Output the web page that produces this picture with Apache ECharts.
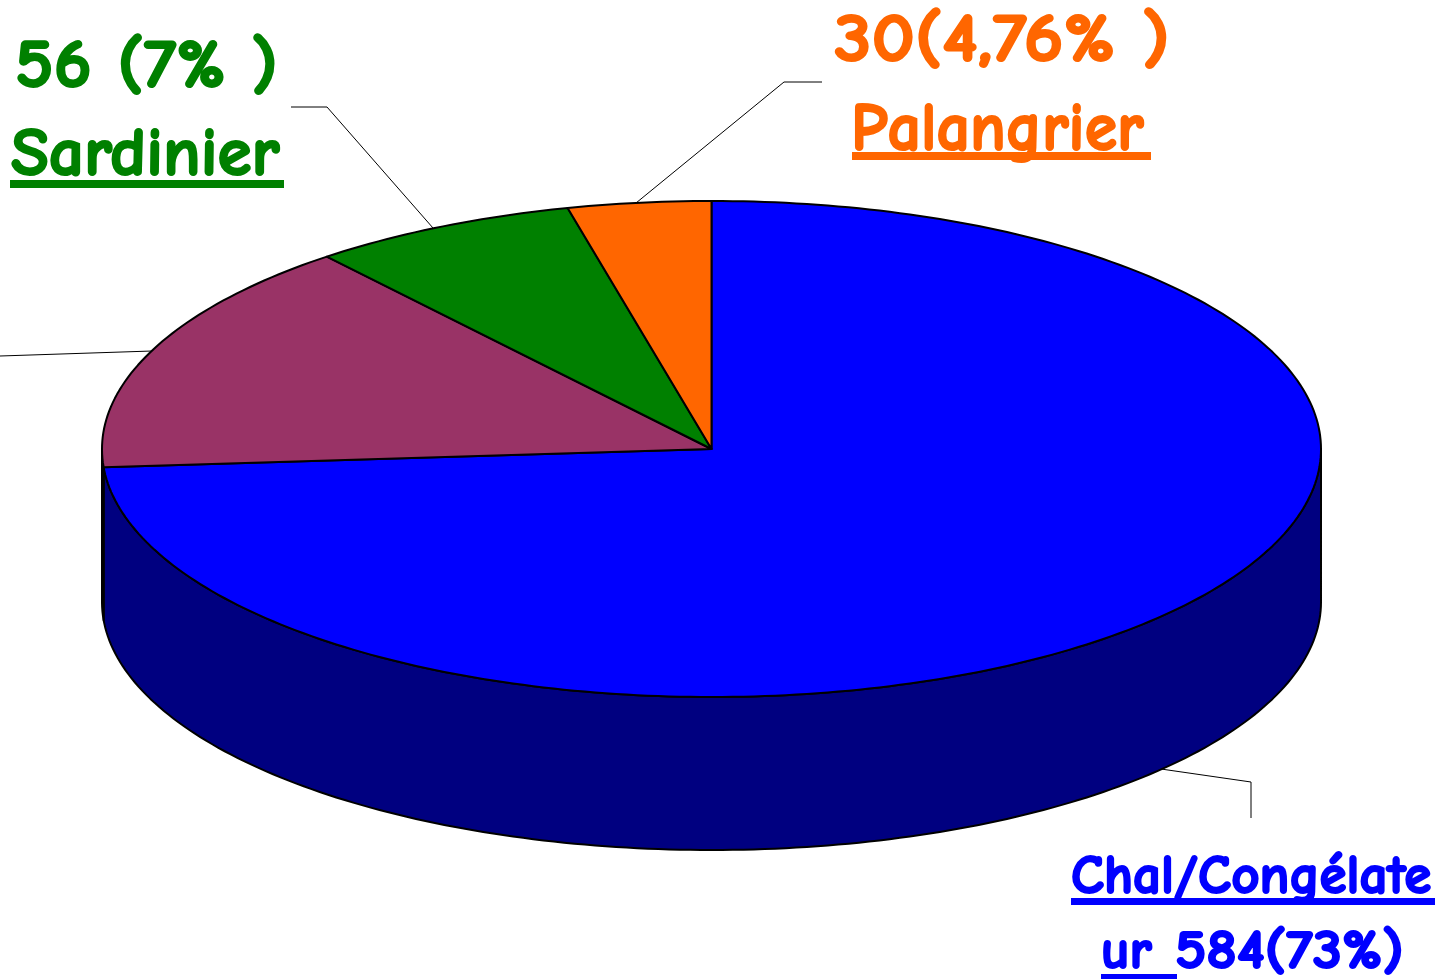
<!DOCTYPE html>
<html>
<head>
<meta charset="utf-8">
<title>Répartition des navires</title>
<script src="https://cdn.jsdelivr.net/npm/echarts@6/dist/echarts.min.js"></script>
<style>
    html, body { margin: 0; padding: 0; background: #fff; }
    #pie3d { width: 1439px; height: 979px; }
</style>
</head>
<body>
<div id="pie3d"></div>
<script>
// clockwise from 12 o'clock. the purple slice has its label cut off in the picture
const categories = ['Chal/Congélateur', '', 'Sardinier', 'Palangrier']
const boats = [584, 121, 56, 30]

const topColors = ['#0000ff', '#993366', '#008000', '#ff6600']
const wallColors = ['#000080', '#4d1a33', '#004000', '#803300']

const labelTexts = ['56 (7% )', 'Sardinier', '30(4,76% )', 'Palangrier', 'Chal/Congélate', 'ur ', '584(73%)']

// ellipse of the pie top
const cx = 711.5, cy = 449, rx = 609.5, ry = 248, depth = 153

const total = boats.reduce((a, b) => a + b)
let running = 0
const sliceRows = boats.map((v) => {
    const row = [v, running / total, (running + v) / total]
    running += v
    return row
})

function rimPoint(deg, dy = 0) {
    const a = (deg * Math.PI) / 180
    return [cx + rx * Math.sin(a), cy - ry * Math.cos(a) + dy]
}

function arcPoints(from, to, dy = 0) {
    const pts = []
    for (let d = from; d < to; d += 1) pts.push(rimPoint(d, dy))
    pts.push(rimPoint(to, dy))
    return pts
}

function renderTop(params, api) {
    const from = api.value(1) * 360,
        to = api.value(2) * 360
    return {
        type: 'polygon',
        shape: { points: [[cx, cy]].concat(arcPoints(from, to)) },
        style: { fill: topColors[params.dataIndex], stroke: '#000', lineWidth: 2, lineJoin: 'round' },
    }
}

function renderWall(params, api) {
    // only the front half of the rim shows, 90 to 270 deg
    const from = Math.max(api.value(1) * 360, 90),
        to = Math.min(api.value(2) * 360, 270)
    if (from >= to) return null
    const upper = arcPoints(from, to),
        lower = arcPoints(from, to, depth).reverse()
    return {
        type: 'polygon',
        shape: { points: upper.concat(lower) },
        style: { fill: wallColors[params.dataIndex], stroke: '#000', lineWidth: 2, lineJoin: 'round' },
    }
}

function leader(points) {
    return {
        type: 'polyline',
        shape: { points: points },
        style: { stroke: '#000', lineWidth: 1, fill: null },
    }
}

// baseline sits about 0.79 of the font size under the top of the text box
function label(text, x, baseline, size, color, sx = 1) {
    return {
        type: 'text',
        x: x,
        y: baseline - size * 0.79,
        scaleX: sx,
        style: {
            text: text,
            fill: color,
            fontFamily: '"Comic Sans MS", "Comic Neue", Lato, sans-serif',
            fontWeight: 'bold',
            fontSize: size,
            verticalAlign: 'top',
            stroke: color,
            lineWidth: 2,
        },
    }
}

function underline(x, y, w, h, color) {
    return { type: 'rect', shape: { x: x, y: y, width: w, height: h }, style: { fill: color } }
}

const myChart = echarts.init(document.querySelector('#pie3d'))
const option = {
    animation: false,
    backgroundColor: '#ffffff',
    series: [
        { name: 'parois', type: 'custom', coordinateSystem: 'none', renderItem: renderWall, data: sliceRows, z: 1, silent: true },
        { name: categories.join(' / '), type: 'custom', coordinateSystem: 'none', renderItem: renderTop, data: sliceRows, z: 2, silent: true },
    ],
    graphic: {
        elements: [
            leader([[291, 107], [327, 107], [433, 228]]),
            leader([[822, 82], [784, 82], [636, 203]]),
            leader([[0, 356], [152, 351]]),
            leader([[1161, 769], [1251, 782], [1251, 818]]),
            label(labelTexts[0], 15, 88, 68, topColors[2], 1.07),
            label(labelTexts[1], 11, 176, 68, topColors[2], 1.02),
            underline(10, 180, 274, 8, topColors[2]),
            label(labelTexts[2], 834, 62, 68, topColors[3], 1.12),
            label(labelTexts[3], 851, 151, 68, topColors[3], 0.97),
            underline(852, 152, 299, 8, topColors[3]),
            label(labelTexts[4], 1071, 893, 55, topColors[0]),
            underline(1071, 898, 364, 7, topColors[0]),
            label(labelTexts[5], 1101, 968, 55, topColors[0]),
            underline(1101, 974, 76, 5, topColors[0]),
            label(labelTexts[6], 1175, 968, 55, topColors[0], 1.08),
        ],
    },
}
myChart.setOption(option)
</script>
</body>
</html>
